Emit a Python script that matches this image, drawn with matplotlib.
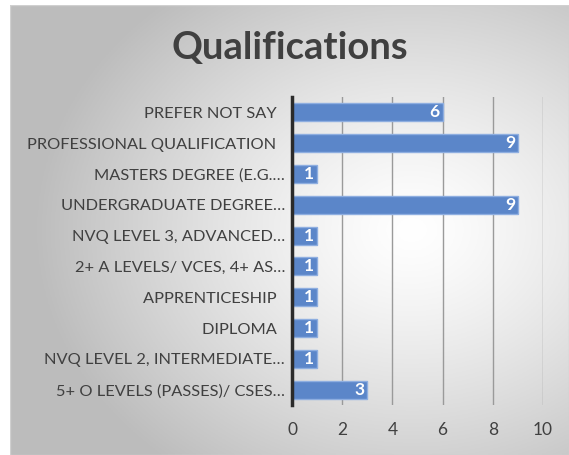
import matplotlib.pyplot as plt
import numpy as np
from matplotlib.patches import Rectangle

categories = ["5+ O LEVELS (PASSES)/ CSES…", "NVQ LEVEL 2, INTERMEDIATE…", "DIPLOMA  ",
              "APPRENTICESHIP  ", "2+ A LEVELS/ VCES, 4+ AS…", "NVQ LEVEL 3, ADVANCED…",
              "UNDERGRADUATE DEGREE…", "MASTERS DEGREE (E.G.…", "PROFESSIONAL QUALIFICATION  ",
              "PREFER NOT SAY  "]
counts = [3, 1, 1, 1, 1, 1, 9, 1, 9, 6]
xticks = [0, 2, 4, 6, 8, 10]

plt.rcParams['font.family'] = ['Lato', 'DejaVu Sans']

W, H = 569, 455
fig = plt.figure(figsize=(W / 100, H / 100), dpi=100)
fig.patch.set_facecolor("white")

# gradient background panel
bg = fig.add_axes([10 / W, 0, 1 - 10 / W, 1 - 5 / H])
bg.set_axis_off()
yy, xx = np.mgrid[0:1:200j, 0:1:250j]
r = np.sqrt(((xx - 0.72) / 0.9) ** 2 + ((yy - 0.5) / 0.9) ** 2)
shade = 1.0 - 0.26 * np.clip(r / 0.75, 0, 1) ** 1.3
bg.imshow(np.dstack([shade] * 3), extent=[0, 1, 0, 1], aspect="auto", origin="upper")
bg.add_patch(Rectangle((0, 0), 1, 1, transform=bg.transAxes, fill=False,
                       edgecolor="#d0d0d0", lw=1))
bg.set_xlim(0, 1)
bg.set_ylim(0, 1)

ax = fig.add_axes([292 / W, 1 - 405 / H, (543 - 292) / W, (405 - 97) / H])
ax.patch.set_alpha(0)
y = np.arange(len(categories))
bars = ax.barh(y, counts, height=0.58, color="#5b86c9", edgecolor="#8eaee0", linewidth=1, zorder=3)
for b, v in zip(bars, counts):
    ax.text(v - 0.12, b.get_y() + b.get_height() / 2, str(v), ha="right", va="center",
            color="white", fontsize=12.5, fontweight="bold", zorder=4)

ax.set_xlim(0, 10)
ax.set_ylim(-0.5, len(categories) - 0.5)
ax.set_xticks(xticks)
ax.set_yticks(y)
ax.set_yticklabels(categories)
ax.grid(axis="x", color="#9a9a9a", lw=1, zorder=0)
for s in ["top", "right", "bottom"]:
    ax.spines[s].set_visible(False)
ax.spines["left"].set_color("#2b2b2b")
ax.spines["left"].set_linewidth(2.5)
ax.spines["left"].set_zorder(5)
ax.tick_params(axis="both", length=0, labelsize=11.8, labelcolor="#404040")
ax.tick_params(axis="x", labelsize=12.5)
ax.tick_params(axis="y", pad=5)
ax.tick_params(axis="x", pad=12)

fig.text((10 + W) / 2 / W, 1 - 48 / H, "Qualifications", ha="center", va="center",
         fontsize=27.5, fontweight="bold", color="#404040")

fig.savefig("out.png", dpi=100)
